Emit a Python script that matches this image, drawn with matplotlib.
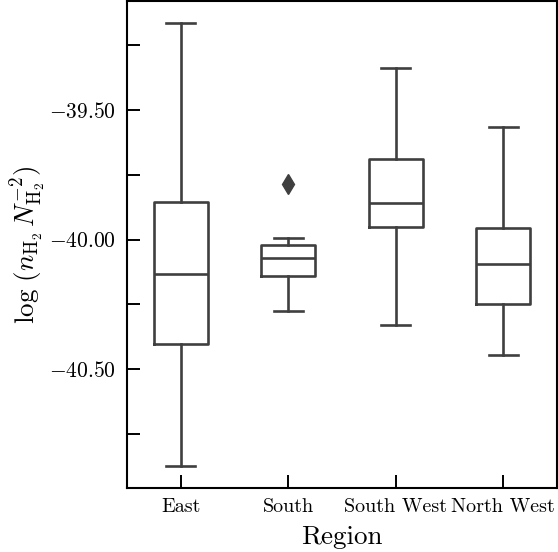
import numpy as np
import matplotlib
matplotlib.use("Agg")
import matplotlib.pyplot as plt
from matplotlib.ticker import MultipleLocator, FuncFormatter

plt.rcParams['font.family'] = 'serif'
plt.rcParams['font.serif'] = ['cmr10', 'DejaVu Serif']
plt.rcParams['mathtext.fontset'] = 'cm'
plt.rcParams['axes.formatter.use_mathtext'] = True
plt.rcParams['axes.unicode_minus'] = True

# box statistics
regions = ['East', 'South', 'South West', 'North West']
whislo = [-40.874, -40.277, -40.330, -40.447]
q1 = [-40.403, -40.141, -39.953, -40.249]
med = [-40.133, -40.071, -39.858, -40.096]
q3 = [-39.855, -40.021, -39.689, -39.957]
whishi = [-39.164, -39.993, -39.339, -39.564]
fliers = [[], [-39.786], [], []]

GRAY = '#3f3f3f'

def main():
    stats = []
    for i, name in enumerate(regions):
        stats.append({'label': name, 'whislo': whislo[i], 'q1': q1[i], 'med': med[i],
                      'q3': q3[i], 'whishi': whishi[i], 'fliers': fliers[i]})

    fig = plt.figure(figsize=(5.58, 5.52), dpi=100)
    ax = fig.add_axes([0.2276, 0.116, 0.7706, 0.882])

    lw = 1.9
    ax.bxp(stats, positions=np.arange(len(regions)), widths=0.5, patch_artist=False,
           boxprops=dict(color=GRAY, linewidth=lw),
           medianprops=dict(color=GRAY, linewidth=lw),
           whiskerprops=dict(color=GRAY, linewidth=lw),
           capprops=dict(color=GRAY, linewidth=lw),
           flierprops=dict(marker='d', markerfacecolor=GRAY, markeredgecolor=GRAY,
                           markersize=10),
           capwidths=0.27)

    ax.set_xlim(-0.5, 3.5)
    ax.set_ylim(-40.959, -39.079)
    ax.set_xticks(np.arange(len(regions)))
    ax.set_xticklabels(regions, fontsize=14.5)
    ax.yaxis.set_major_locator(MultipleLocator(0.5))
    ax.yaxis.set_minor_locator(MultipleLocator(0.25))
    ax.yaxis.set_major_formatter(FuncFormatter(lambda v, p: f'${v:.2f}$'))
    ax.tick_params(axis='y', which='major', labelsize=15.5)
    ax.tick_params(which='both', direction='in', length=9.5, width=1.4, color='black')
    ax.tick_params(axis='x', pad=7)
    ax.tick_params(axis='y', pad=8)

    for sp in ax.spines.values():
        sp.set_linewidth(1.5)
        sp.set_color('black')

    ax.set_xlabel('Region', fontsize=19.5, labelpad=7)
    ax.set_ylabel(r'$\log\,(n_{\mathrm{H}_2}\,N_{\mathrm{H}_2}^{-2})$', fontsize=19.5, labelpad=1)

    fig.savefig('out.png', dpi=100)
    plt.close(fig)

if __name__ == "__main__":
    main()
